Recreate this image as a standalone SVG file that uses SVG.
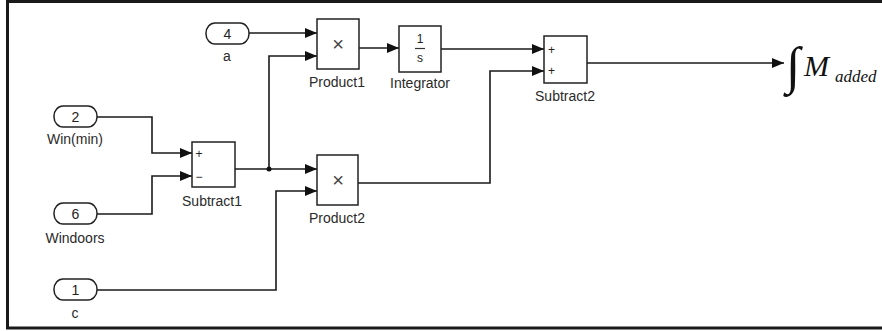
<svg xmlns="http://www.w3.org/2000/svg" width="882" height="331" viewBox="0 0 882 331">
<defs>
<marker id="arr" markerUnits="userSpaceOnUse" markerWidth="13" markerHeight="11" refX="12" refY="5" orient="auto">
<path d="M0,0 L12,5 L0,10 Z" fill="#111"/>
</marker>
<style>
.frame{fill:none;stroke:#1a1a1a;stroke-width:3}
.blk{fill:#fff;stroke:#222;stroke-width:1.5}
.port{fill:#fff;stroke:#222;stroke-width:1.5}
.wire{fill:none;stroke:#1a1a1a;stroke-width:1.6;marker-end:url(#arr)}
.lbl{font-family:"Liberation Sans",Arial,sans-serif;font-size:14px;fill:#2b2b2b;text-anchor:middle}
.num{font-family:"Liberation Sans",Arial,sans-serif;font-size:14px;fill:#222;text-anchor:middle}
.sgn{font-family:"Liberation Sans",Arial,sans-serif;font-size:12px;fill:#222;text-anchor:middle}
.mul{font-family:"Liberation Sans",Arial,sans-serif;font-size:20px;fill:#444;text-anchor:middle}
.math{font-family:"Liberation Serif","Times New Roman",serif;fill:#111;font-style:italic}
</style>
</defs>
<rect x="7.5" y="1.5" width="900" height="326.5" class="frame"/>

<g id="connectors">
<path class="wire" d="M249,33 H317"/>
<path class="wire" d="M97,117 H152 V153 H192"/>
<path class="wire" d="M97,214 H152 V176 H192"/>
<path class="wire" d="M235,169 H317"/>
<path class="wire" d="M269,169 V56 H317"/>
<path class="wire" d="M97,290 H276 V191 H317"/>
<path class="wire" d="M359,48 H399"/>
<path class="wire" d="M441,49 H544"/>
<path class="wire" d="M358,183 H490 V71 H544"/>
<path class="wire" d="M587,63 H784"/>
<circle cx="269" cy="169" r="2.5" fill="#111"/>
</g>

<g id="in_a">
<rect class="port" x="206" y="23" width="43" height="21" rx="9" ry="10"/>
<text class="num" x="227.5" y="38.5">4</text>
<text class="lbl" x="227" y="61">a</text>
</g>
<g id="in_win">
<rect class="port" x="54" y="106" width="43" height="21" rx="9" ry="10"/>
<text class="num" x="75.5" y="121.5">2</text>
<text class="lbl" x="75" y="144">Win(min)</text>
</g>
<g id="in_windoors">
<rect class="port" x="54" y="203" width="43" height="21" rx="9" ry="10"/>
<text class="num" x="75.5" y="218.5">6</text>
<text class="lbl" x="75" y="243">Windoors</text>
</g>
<g id="in_c">
<rect class="port" x="54" y="279" width="43" height="21" rx="9" ry="10"/>
<text class="num" x="75.5" y="294.5">1</text>
<text class="lbl" x="75" y="318">c</text>
</g>

<g id="subtract1">
<rect class="blk" x="192" y="142" width="43" height="45"/>
<text class="sgn" x="199" y="157.5">+</text>
<text class="sgn" x="199" y="180.5">−</text>
<text class="lbl" x="212" y="206">Subtract1</text>
</g>
<g id="product1">
<rect class="blk" x="317" y="19" width="42" height="50"/>
<text class="mul" x="338" y="51">×</text>
<text class="lbl" x="337" y="87">Product1</text>
</g>
<g id="product2">
<rect class="blk" x="317" y="155" width="41" height="50"/>
<text class="mul" x="338" y="187">×</text>
<text class="lbl" x="337" y="223">Product2</text>
</g>
<g id="integrator">
<rect class="blk" x="399" y="26" width="42" height="46"/>
<text class="sgn" x="420" y="43">1</text>
<line x1="415" y1="48.5" x2="425" y2="48.5" stroke="#333" stroke-width="1.2"/>
<text class="sgn" x="420" y="62">s</text>
<text class="lbl" x="420" y="88">Integrator</text>
</g>
<g id="subtract2">
<rect class="blk" x="544" y="36" width="43" height="47"/>
<text class="sgn" x="551.5" y="53.5">+</text>
<text class="sgn" x="551.5" y="75">+</text>
<text class="lbl" x="565" y="101">Subtract2</text>
</g>

<g id="output">
<text x="786" y="83" font-family="'Liberation Serif','Times New Roman',serif" font-size="52" font-weight="300" fill="#111">∫</text>
<text class="math" x="804" y="76" font-size="30">M</text>
<text class="math" x="835" y="82" font-size="17">added</text>
</g>
</svg>
